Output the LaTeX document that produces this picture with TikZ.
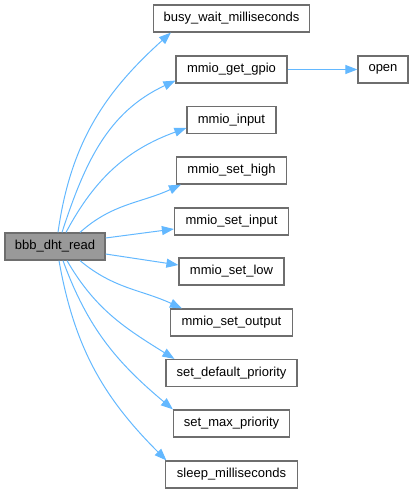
\documentclass[tikz,border=0pt]{standalone}
\usepackage{fontspec}
\setmainfont{Liberation Sans}
\usetikzlibrary{arrows.meta}
\definecolor{edgeblue}{HTML}{63B8FF}
\definecolor{boxgray}{HTML}{6E6E6E}
\definecolor{rootfill}{HTML}{999999}
\begin{document}
\begin{tikzpicture}[x=1pt,y=-1pt,
  fn/.style={draw=boxgray,line width=1.2pt,fill=white,minimum height=27pt,inner sep=0pt,font=\fontsize{13}{15}\selectfont},
  root/.style={fn,fill=rootfill},
  call/.style={draw=edgeblue,line width=1pt,-{Triangle[length=12pt,width=9pt]}}]
\useasboundingbox (0,0) rectangle (414,493);
\node[root,minimum width=100pt] (bbb) at (55,246.5) {bbb\_dht\_read};
\node[fn,minimum width=156pt] (busy) at (231.5,18.5) {busy\_wait\_milliseconds};
\node[fn,minimum width=111pt] (gpio) at (231.5,69.5) {mmio\_get\_gpio};
\node[fn,minimum width=89pt] (input) at (231.5,120) {mmio\_input};
\node[fn,minimum width=110pt] (high) at (231.5,170.5) {mmio\_set\_high};
\node[fn,minimum width=114pt] (setinput) at (231.5,221.5) {mmio\_set\_input};
\node[fn,minimum width=105pt] (low) at (231.5,271.5) {mmio\_set\_low};
\node[fn,minimum width=122pt] (output) at (231.5,322.5) {mmio\_set\_output};
\node[fn,minimum width=131pt] (default) at (231.5,373) {set\_default\_priority};
\node[fn,minimum width=116pt] (max) at (231.5,423.5) {set\_max\_priority};
\node[fn,minimum width=132pt] (sleep) at (231.5,474.5) {sleep\_milliseconds};
\node[fn,minimum width=50pt] (open) at (383,69.5) {open};

\draw[call] ([xshift=3pt]bbb.north) to[out=82,in=222] ([xshift=18pt]busy.south west);
\draw[call] ([xshift=7pt]bbb.north) to[out=72,in=205] ([yshift=3pt]gpio.south west);
\draw[call] ([xshift=11pt]bbb.north) to[out=62,in=200] ([yshift=-8pt]input.west);
\draw[call] ([xshift=25pt]bbb.north) to[out=42,in=205] ([xshift=5pt]high.south west);
\draw[call] ([yshift=8.5pt]bbb.east) -- ([yshift=-7.5pt]setinput.west);
\draw[call] ([yshift=-7.5pt]bbb.east) -- ([yshift=6.5pt]low.west);
\draw[call] ([xshift=25pt]bbb.south) to[out=-40,in=155] ([xshift=12pt]output.north west);
\draw[call] ([xshift=12pt]bbb.south) to[out=-60,in=148] ([xshift=9pt]default.north west);
\draw[call] ([xshift=8pt]bbb.south) to[out=-70,in=140] (max.north west);
\draw[call] ([xshift=4pt]bbb.south) to[out=-80,in=135] ([xshift=1.5pt]sleep.north west);
\draw[call] (gpio.east) -- (open.west);
\end{tikzpicture}
\end{document}
